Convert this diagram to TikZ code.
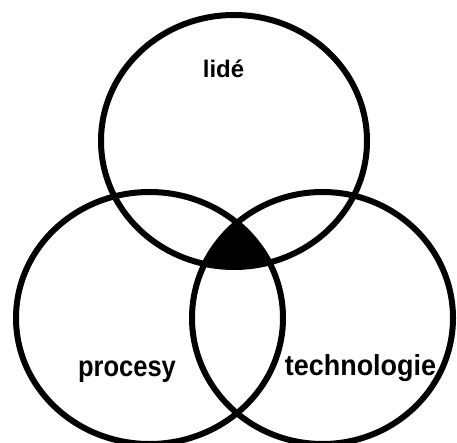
\documentclass[tikz,border=0pt]{standalone}
\usepackage{fontspec}
\setmainfont{Liberation Sans}
\begin{document}
\begin{tikzpicture}[x=1pt,y=-1pt,
  ring/.style={draw=black,line width=6pt},
  lbl/.style={font=\bfseries\fontsize{29}{32}\selectfont,anchor=base,inner sep=0pt}]
\useasboundingbox[fill=white] (0,0) rectangle (457,443);
\begin{scope}
  \clip (234,141) ellipse [x radius=133, y radius=126];
  \clip (149.5,318) ellipse [x radius=133.5, y radius=126];
  \fill[black] (322.5,318) ellipse [x radius=130.5, y radius=126];
\end{scope}
\draw[ring] (234,141) ellipse [x radius=133, y radius=126];
\draw[ring] (149.5,318) ellipse [x radius=133.5, y radius=126];
\draw[ring] (322.5,318) ellipse [x radius=130.5, y radius=126];
\node[lbl,font=\bfseries\fontsize{24}{28}\selectfont] (lide) at (223.5,77.3) {lidé};
\node[lbl] (procesy) at (127,376.5) {\scalebox{0.88}[1]{procesy}};
\node[lbl] (tech) at (360.5,375.5) {\scalebox{0.93}[1]{technologie}};
\end{tikzpicture}
\end{document}
